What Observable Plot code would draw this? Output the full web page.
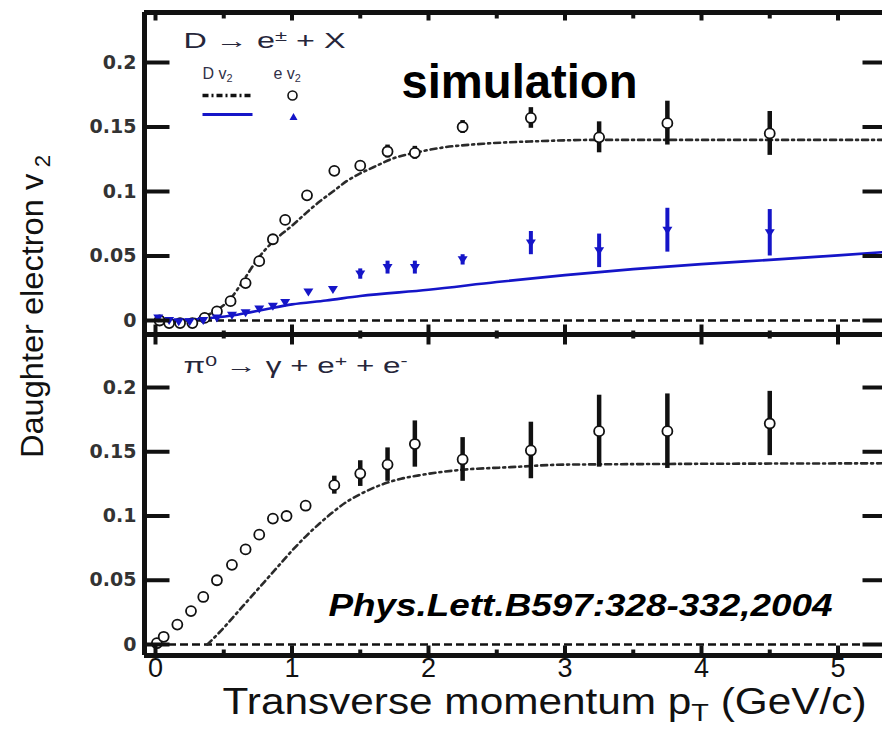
<!DOCTYPE html>
<html><head><meta charset="utf-8">
<script src="https://cdn.jsdelivr.net/npm/d3@7"></script>
<script src="https://cdn.jsdelivr.net/npm/@observablehq/plot@0.6"></script>
<style>
body{margin:0;background:#fff}
#chart{position:relative;width:882px;height:732px;overflow:hidden;background:#fff}
#chart svg{position:absolute;left:0}
</style>
</head><body><div id="chart"></div>
<script>
// ---------------- data ----------------
// Top panel: D -> e + X, electron v2 (open circles)
const topCircX = [0.03, 0.1, 0.18, 0.27, 0.36, 0.45, 0.55, 0.66, 0.76, 0.86, 0.95, 1.11, 1.31, 1.5, 1.7, 1.9, 2.25, 2.75, 3.25, 3.75, 4.5];
const topCircY = [0.0, -0.002, -0.002, -0.002, 0.002, 0.007, 0.015, 0.029, 0.046, 0.063, 0.078, 0.097, 0.116, 0.120, 0.131, 0.130, 0.150, 0.157, 0.142, 0.153, 0.145];
const topCircErr = [0, 0, 0, 0, 0, 0, 0, 0, 0, 0, 0, 0, 0, 0, 0.005, 0.005, 0.005, 0.008, 0.012, 0.017, 0.017];
// Top panel: electron v2 (blue triangles)
const topTriX = [0.02, 0.1, 0.17, 0.25, 0.35, 0.45, 0.56, 0.66, 0.76, 0.86, 0.95, 1.12, 1.3, 1.5, 1.7, 1.9, 2.25, 2.75, 3.25, 3.75, 4.5];
const topTriY = [0.002, 0.0, -0.001, -0.001, 0.0, 0.002, 0.004, 0.006, 0.009, 0.011, 0.014, 0.022, 0.024, 0.036, 0.041, 0.041, 0.047, 0.060, 0.054, 0.070, 0.068];
const topTriErr = [0, 0, 0, 0, 0, 0, 0, 0, 0, 0, 0, 0, 0, 0.004, 0.005, 0.005, 0.004, 0.009, 0.013, 0.017, 0.018];
// Top panel: D v2 curve (dash-dot)
const dCurveX = [0.25, 0.35, 0.45, 0.55, 0.65, 0.75, 0.85, 1.0, 1.1, 1.2, 1.3, 1.4, 1.5, 1.6, 1.75, 1.9, 2.1, 2.4, 2.8, 3.2, 5.34];
const dCurveY = [0.0, 0.003, 0.008, 0.017, 0.032, 0.048, 0.060, 0.0735, 0.083, 0.092, 0.100, 0.108, 0.114, 0.119, 0.126, 0.130, 0.134, 0.137, 0.139, 0.140, 0.140];
// Top panel: blue solid curve
const eCurveX = [0.0, 0.2, 0.4, 0.6, 0.8, 1.0, 1.25, 1.5, 2.0, 2.5, 3.0, 3.5, 4.0, 4.5, 5.0, 5.34];
const eCurveY = [0.0, 0.0005, 0.002, 0.0045, 0.0085, 0.0125, 0.0155, 0.019, 0.0238, 0.0298, 0.0352, 0.0398, 0.0437, 0.0470, 0.0505, 0.0530];
// Bottom panel: pi0 Dalitz electron v2 (open circles)
const botCircX = [0.01, 0.06, 0.16, 0.26, 0.35, 0.45, 0.56, 0.66, 0.76, 0.86, 0.96, 1.1, 1.31, 1.5, 1.7, 1.9, 2.25, 2.75, 3.25, 3.75, 4.5];
const botCircY = [0.001, 0.006, 0.0155, 0.026, 0.037, 0.050, 0.062, 0.074, 0.0855, 0.098, 0.100, 0.108, 0.124, 0.133, 0.140, 0.156, 0.144, 0.151, 0.166, 0.166, 0.172];
const botCircErr = [0, 0, 0, 0, 0, 0, 0, 0, 0, 0, 0, 0, 0.007, 0.010, 0.013, 0.018, 0.017, 0.022, 0.028, 0.029, 0.025];
// Bottom panel: pi0 v2 curve (dash-dot)
const piCurveX = [0.38, 0.5, 0.6, 0.7, 0.8, 0.9, 1.0, 1.1, 1.2, 1.3, 1.4, 1.5, 1.6, 1.7, 1.8, 1.95, 2.25, 2.6, 3.0, 5.34];
const piCurveY = [0.0, 0.013, 0.025, 0.037, 0.049, 0.061, 0.073, 0.084, 0.094, 0.103, 0.111, 0.117, 0.122, 0.126, 0.129, 0.132, 0.136, 0.138, 0.140, 0.141];
// Axis ticks
const xMajor = [0, 1, 2, 3, 4, 5];
const xMajorLabels = ["0", "1", "2", "3", "4", "5"];
const xMinor = [0.5, 1.5, 2.5, 3.5, 4.5];
const yTicks = [0, 0.05, 0.1, 0.15, 0.2];
const yTickLabels = ["0", "0.05", "0.1", "0.15", "0.2"];
// Texts
const topTitle = ["D → e^{±} + X"];
const botTitle = ["π^{0} → γ + e^{+} + e^{-}"];
const legendHeadD = ["D v_{2}"];
const legendHeadE = ["e v_{2}"];
const simLabel = ["simulation"];
const refLabel = ["Phys.Lett.B597:328-332,2004"];
const xLabel = ["Transverse momentum p_{T} (GeV/c)"];
const yLabel = ["Daughter electron v\u2009_{2}"];

// ---------------- layout / style ----------------
const X_DOMAIN = [-11 / 136.5, 727 / 136.5];
const TOP_Y = [-14 / 1290, 308 / 1290];
const BOT_Y = [-11 / 1285, 310 / 1285];
const ink = "#111";
const blue = "#1515c8";
const dashDot = {stroke: "#2a2a2a", strokeWidth: 2.6, strokeDasharray: "6,4,2,4", curve: "monotone-x"};
const FONT = "Liberation Sans, Arial, sans-serif";

const vTick = (len) => ({draw(ctx) { ctx.moveTo(0, 0); ctx.lineTo(0, len); }});
const hTick = (len) => ({draw(ctx) { ctx.moveTo(0, 0); ctx.lineTo(len, 0); }});
const hSeg = (len) => ({draw(ctx) { ctx.moveTo(-len / 2, 0); ctx.lineTo(len / 2, 0); }});
const downTri = {draw(ctx) { ctx.moveTo(-5, -3.5); ctx.lineTo(5, -3.5); ctx.lineTo(0, 4.5); ctx.closePath(); }};
const upTri = {draw(ctx) { ctx.moveTo(-4, 3.5); ctx.lineTo(4, 3.5); ctx.lineTo(0, -3.5); ctx.closePath(); }};
const withErr = (err) => d3.range(err.length).filter(i => err[i] > 0);
const tickStyle = {stroke: ink, strokeWidth: 4, fill: "none"};
const label = {textAnchor: "start", lineAnchor: "middle"};

function frameTicks(yDomain, topMajor, topMinor, botMajor, botMinor) {
  return [
    Plot.ruleX([X_DOMAIN[0]], {stroke: ink, strokeWidth: 5}),
    Plot.ruleY([yDomain[1]], {stroke: ink, strokeWidth: 5}),
    Plot.ruleY([yDomain[0]], {stroke: ink, strokeWidth: 5}),
    Plot.dot(yTicks, {y: d => d, frameAnchor: "left", symbol: hTick(25), ...tickStyle}),
    Plot.dot(yTicks, {y: d => d, frameAnchor: "right", symbol: hTick(-20), ...tickStyle}),
    Plot.dot(xMajor, {x: d => d, frameAnchor: "top", symbol: vTick(topMajor), ...tickStyle}),
    Plot.dot(xMinor, {x: d => d, frameAnchor: "top", symbol: vTick(topMinor), ...tickStyle}),
    Plot.dot(xMajor, {x: d => d, frameAnchor: "bottom", symbol: vTick(-botMajor), ...tickStyle}),
    Plot.dot(xMinor, {x: d => d, frameAnchor: "bottom", symbol: vTick(-botMinor), ...tickStyle}),
    Plot.text(yTicks, {y: d => d, text: (d, i) => yTickLabels[i], frameAnchor: "left", dx: -8, textAnchor: "end", lineAnchor: "middle",
      fontFamily: "DejaVu Sans, sans-serif", fontWeight: "bold", fontSize: 19, fill: "#333"})
  ];
}

const common = {
  width: 882, marginLeft: 144, marginRight: 0,
  x: {domain: X_DOMAIN, axis: null},
  style: {background: "transparent", overflow: "visible", fontFamily: FONT}
};

const topPlot = Plot.plot({
  ...common,
  height: 336, marginTop: 12, marginBottom: 2,
  y: {domain: TOP_Y, axis: null},
  marks: [
    Plot.ruleY([0], {stroke: ink, strokeWidth: 2.5, strokeDasharray: "8,4"}),
    Plot.line(dCurveY, {x: dCurveX, y: dCurveY, ...dashDot}),
    Plot.line(eCurveY, {x: eCurveX, y: eCurveY, stroke: blue, strokeWidth: 2.6, curve: "monotone-x"}),
    Plot.ruleX(withErr(topCircErr), {x: i => topCircX[i], y1: i => topCircY[i] - topCircErr[i], y2: i => topCircY[i] + topCircErr[i], stroke: ink, strokeWidth: 4.5}),
    Plot.dot(topCircY, {x: topCircX, y: topCircY, r: 5, fill: "white", stroke: ink, strokeWidth: 1.8}),
    Plot.ruleX(withErr(topTriErr), {x: i => topTriX[i], y1: i => topTriY[i] - topTriErr[i], y2: i => topTriY[i] + topTriErr[i], stroke: blue, strokeWidth: 4}),
    Plot.dot(topTriY, {x: topTriX, y: topTriY, symbol: downTri, fill: blue, stroke: "none"}),
    ...frameTicks(TOP_Y, 8, 6, 10, 4),
    // legend
    Plot.text(topTitle, {frameAnchor: "top-left", dx: 39, dy: 28, ...label, fontSize: 22, fill: "#26263a"}),
    Plot.text(legendHeadD, {frameAnchor: "top-left", dx: 58, dy: 61.5, ...label, fontSize: 16, fill: "#303048"}),
    Plot.text(legendHeadE, {frameAnchor: "top-left", dx: 129, dy: 61.5, ...label, fontSize: 16, fill: "#303048"}),
    Plot.dot([0], {frameAnchor: "top-left", dx: 83, dy: 83, symbol: hSeg(50), fill: "none", stroke: ink, strokeWidth: 3.5, strokeDasharray: "6,3,2,3"}),
    Plot.dot([0], {frameAnchor: "top-left", dx: 148, dy: 83, r: 4.5, fill: "white", stroke: ink, strokeWidth: 1.6}),
    Plot.dot([0], {frameAnchor: "top-left", dx: 83, dy: 102, symbol: hSeg(50), fill: "none", stroke: blue, strokeWidth: 3}),
    Plot.dot([0], {frameAnchor: "top-left", dx: 149, dy: 104, symbol: upTri, fill: blue, stroke: "none"}),
    Plot.text(simLabel, {frameAnchor: "top-left", dx: 257, dy: 70.6, ...label, fontSize: 48, fontWeight: "bold", fill: "#000"}),
    Plot.text(yLabel, {frameAnchor: "top-left", dx: -112, dy: 294, rotate: -90, textAnchor: "middle", lineAnchor: "middle", fontSize: 32, fill: "#111"})
  ]
});

const botPlot = Plot.plot({
  ...common,
  height: 400, marginTop: 2, marginBottom: 77,
  y: {domain: BOT_Y, axis: null},
  marks: [
    Plot.ruleY([0], {stroke: ink, strokeWidth: 2.5, strokeDasharray: "8,4"}),
    Plot.line(piCurveY, {x: piCurveX, y: piCurveY, ...dashDot}),
    Plot.ruleX(withErr(botCircErr), {x: i => botCircX[i], y1: i => botCircY[i] - botCircErr[i], y2: i => botCircY[i] + botCircErr[i], stroke: ink, strokeWidth: 4.5}),
    Plot.dot(botCircY, {x: botCircX, y: botCircY, r: 5, fill: "white", stroke: ink, strokeWidth: 1.8}),
    ...frameTicks(BOT_Y, 10, 4, 10, 6),
    Plot.text(xMajor, {x: d => d, text: (d, i) => xMajorLabels[i], frameAnchor: "bottom", dy: 13, lineAnchor: "middle",
      fontFamily: "Liberation Sans Narrow, Liberation Sans, sans-serif", fontSize: 27, fill: "#111"}),
    Plot.text(botTitle, {frameAnchor: "top-left", dx: 39, dy: 31, ...label, fontSize: 22, fill: "#26263a"}),
    Plot.text(refLabel, {frameAnchor: "top-left", dx: 184, dy: 270.8, ...label, fontSize: 32, fontWeight: "bold", fontStyle: "italic", fill: "#000"}),
    Plot.text(xLabel, {frameAnchor: "bottom-left", dx: 78, dy: 47, ...label, fontSize: 36, fill: "#111"})
  ]
});

// ---------------- rich text (sub/superscripts) and text widths ----------------
const lengths = {
  "simulation": [236, "spacingAndGlyphs"],
  "D → e^{±} + X": [162, "spacingAndGlyphs"],
  "π^{0} → γ + e^{+} + e^{-}": [224, "spacingAndGlyphs"],
  "Phys.Lett.B597:328-332,2004": [504, "spacingAndGlyphs"],
  "Transverse momentum p_{T} (GeV/c)": [644, "spacingAndGlyphs"],
  "Daughter electron v\u2009_{2}": [303, "spacingAndGlyphs"]
};
function richify(svg) {
  d3.select(svg).selectAll("text").each(function () {
    const el = this;
    const raw = el.textContent;
    if (/[\^_]\{/.test(raw)) {
      const parts = [];
      const re = /([\^_])\{([^}]*)\}/g;
      let last = 0, m;
      while ((m = re.exec(raw))) {
        if (m.index > last) parts.push({t: raw.slice(last, m.index)});
        parts.push({t: m[2], s: m[1]});
        last = re.lastIndex;
      }
      if (last < raw.length) parts.push({t: raw.slice(last)});
      while (el.firstChild) el.removeChild(el.firstChild);
      for (const p of parts) {
        const ts = document.createElementNS("http://www.w3.org/2000/svg", "tspan");
        ts.textContent = p.t;
        if (p.s) {
          ts.setAttribute("font-size", "68%");
          ts.setAttribute("baseline-shift", p.s === "^" ? "45%" : "-30%");
        }
        el.appendChild(ts);
      }
    }
    if (raw in lengths) {
      el.setAttribute("textLength", lengths[raw][0]);
      el.setAttribute("lengthAdjust", lengths[raw][1]);
    }
  });
}
richify(topPlot);
richify(botPlot);

topPlot.style.top = "0px";
botPlot.style.top = "332px";
const chart = document.getElementById("chart");
chart.appendChild(botPlot);
chart.appendChild(topPlot);
</script></body></html>
